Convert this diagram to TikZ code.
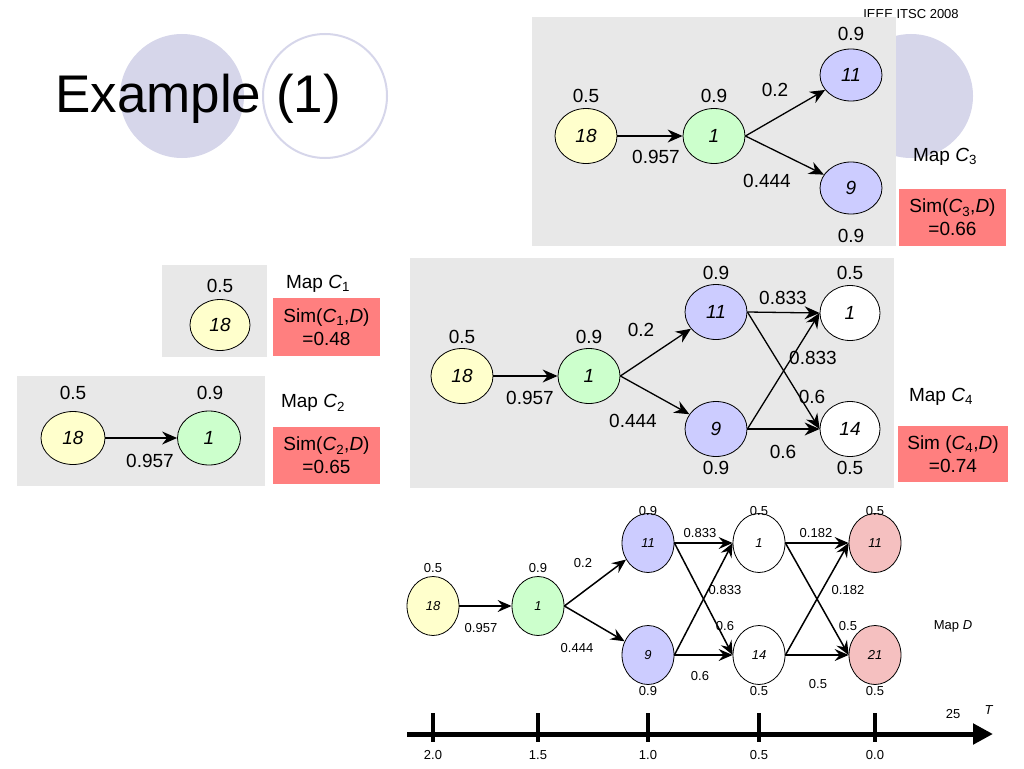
\documentclass[tikz,border=0pt]{standalone}
\usepackage{fontspec}
\setmainfont{Liberation Sans}
\usetikzlibrary{shapes.geometric,arrows.meta}
\definecolor{boxgray}{HTML}{E8E8E8}
\definecolor{simred}{HTML}{FF7F7F}
\definecolor{nyellow}{HTML}{FFFFCC}
\definecolor{ngreen}{HTML}{CCFFCC}
\definecolor{nblue}{HTML}{CCCCFF}
\definecolor{npink}{HTML}{F5C0C0}
\definecolor{deco}{HTML}{D6D6EA}
\begin{document}
\begin{tikzpicture}[x=1pt,y=-1pt,
  cn/.style={ellipse,draw,line width=0.8pt,inner sep=0pt,minimum width=62pt,minimum height=55pt,font=\fontsize{19}{19}\selectfont\itshape},
  dn/.style={ellipse,draw,line width=0.8pt,inner sep=0pt,minimum width=52pt,minimum height=59pt,font=\fontsize{13}{13}\selectfont\itshape},
  lab/.style={inner sep=0pt,font=\fontsize{19}{19}\selectfont},
  dlab/.style={inner sep=0pt,font=\fontsize{13}{13}\selectfont},
  edge/.style={-{Stealth[length=15pt,width=13pt,inset=5pt]},line width=1.3pt},
  dedge/.style={-{Stealth[length=14pt,width=12pt,inset=5pt]},line width=1.5pt},
  gbox/.style={fill=boxgray},
  simbox/.style={fill=simred,inner sep=0pt,align=center,font=\fontsize{19}{23}\selectfont},
  tick/.style={line width=4pt}]
\useasboundingbox (0,0) rectangle (1024,768);
% decorative circles
\fill[deco] (182,96) circle[radius=62pt];
\draw[deco,line width=2pt] (325,96) circle[radius=62pt];
\fill[deco] (911,96) circle[radius=62pt];
\node[font=\fontsize{53}{60}\selectfont,anchor=base west,inner sep=0pt] (title) at (55,112) {Example (1)};
\node[font=\fontsize{13}{13}\selectfont,inner sep=0pt] (conf) at (911,14) {IEEE ITSC 2008};
% gray boxes
\fill[gbox] (532,17) rectangle (896,246);
\fill[gbox] (162,265) rectangle (267,357);
\fill[gbox] (17,376) rectangle (265,486);
\fill[gbox] (410,258) rectangle (894,488);
% ---------- Map C3
\node[cn,fill=nyellow] (a18) at (586,136) {18};
\node[cn,fill=ngreen] (a1) at (714,136) {1};
\node[cn,fill=nblue,minimum height=52pt] (a11) at (851,75) {11};
\node[cn,fill=nblue,minimum height=52pt] (a9) at (851,188) {9};
\draw[edge] (a18) -- (a1);
\draw[edge] (a1.east) -- (a11);
\draw[edge] (a1.east) -- (a9);
\node[lab] (a18l) at (586,96) {0.5};
\node[lab] (a1l) at (714,96) {0.9};
\node[lab] (a11l) at (851,34) {0.9};
\node[lab] (a9l) at (851,236) {0.9};
\node[lab] (ae1) at (656,157) {0.957};
\node[lab] (ae2) at (775,90) {0.2};
\node[lab] (ae3) at (767,181) {0.444};
\node[lab] (amap) at (945,157) {Map \textit{C}\textsubscript{3}};
\node[simbox,minimum width=107pt,minimum height=57pt] (asim) at (952.5,217.5) {Sim(\textit{C}\textsubscript{3},\textit{D})\\=0.66};
% ---------- Map C1
\node[cn,fill=nyellow,minimum width=60pt,minimum height=51pt] (b18) at (220,325) {18};
\node[lab] (b18l) at (220,286) {0.5};
\node[lab] (bmap) at (318,284) {Map \textit{C}\textsubscript{1}};
\node[simbox,minimum width=107pt,minimum height=58pt] (bsim) at (326.5,327) {Sim(\textit{C}\textsubscript{1},\textit{D})\\=0.48};
% ---------- Map C2
\node[cn,fill=nyellow,minimum width=64pt,minimum height=53pt] (c18) at (73,438) {18};
\node[cn,fill=ngreen,minimum width=63pt,minimum height=54pt] (c1) at (209,438) {1};
\draw[edge] (c18) -- (c1);
\node[lab] (c18l) at (73,393) {0.5};
\node[lab] (c1l) at (210,393) {0.9};
\node[lab] (ce1) at (150,461) {0.957};
\node[lab] (cmap) at (313,403) {Map \textit{C}\textsubscript{2}};
\node[simbox,minimum width=107pt,minimum height=57pt] (csim) at (326.5,455.5) {Sim(\textit{C}\textsubscript{2},\textit{D})\\=0.65};
% ---------- Map C4
\node[cn,fill=nyellow] (e18) at (462,376) {18};
\node[cn,fill=ngreen] (e1) at (589,376) {1};
\node[cn,fill=nblue] (e11) at (716,312) {11};
\node[cn,fill=nblue] (e9) at (716,429) {9};
\node[cn,fill=white,minimum width=60pt] (e1w) at (850,313) {1};
\node[cn,fill=white,minimum width=60pt] (e14) at (850,429) {14};
\draw[edge] (e18) -- (e1);
\draw[edge] (e1.east) -- (e11);
\draw[edge] (e1.east) -- (e9);
\draw[edge] (e11.east) -- (e1w.west);
\draw[edge] (e11.east) -- (e14.west);
\draw[edge] (e9.east) -- (e1w.west);
\draw[edge] (e9.east) -- (e14.west);
\node[lab] (e18l) at (462,337) {0.5};
\node[lab] (e1l) at (589,337) {0.9};
\node[lab] (e11l) at (716,273) {0.9};
\node[lab] (e1wl) at (850,273) {0.5};
\node[lab] (e9l) at (716,468) {0.9};
\node[lab] (e14l) at (850,468) {0.5};
\node[lab] (ee1) at (530,398) {0.957};
\node[lab] (ee2) at (641,330) {0.2};
\node[lab] (ee3) at (633,421) {0.444};
\node[lab] (ee4) at (783,298) {0.833};
\node[lab] (ee5) at (813,358) {0.833};
\node[lab] (ee6) at (812,397) {0.6};
\node[lab] (ee7) at (783,452) {0.6};
\node[lab] (emap) at (941,397) {Map \textit{C}\textsubscript{4}};
\node[simbox,minimum width=110pt,minimum height=56pt] (esim) at (953,454) {Sim (\textit{C}\textsubscript{4},\textit{D})\\=0.74};
% ---------- Map D
\node[dn,fill=nyellow] (d18) at (433,606) {18};
\node[dn,fill=ngreen] (d1) at (538,606) {1};
\node[dn,fill=nblue] (d11) at (648,543) {11};
\node[dn,fill=nblue] (d9) at (648,655) {9};
\node[dn,fill=white] (d1w) at (759,543) {1};
\node[dn,fill=white] (d14) at (759,655) {14};
\node[dn,fill=npink] (d11r) at (875,543) {11};
\node[dn,fill=npink] (d21) at (875,655) {21};
\draw[dedge] (d18) -- (d1);
\draw[dedge] (d1.east) -- (d11);
\draw[dedge] (d1.east) -- (d9);
\draw[dedge] (d11.east) -- (d1w.west);
\draw[dedge] (d11.east) -- (d14.west);
\draw[dedge] (d9.east) -- (d1w.west);
\draw[dedge] (d9.east) -- (d14.west);
\draw[dedge] (d1w.east) -- (d11r.west);
\draw[dedge] (d1w.east) -- (d21.west);
\draw[dedge] (d14.east) -- (d11r.west);
\draw[dedge] (d14.east) -- (d21.west);
\node[dlab] (d18l) at (433,568) {0.5};
\node[dlab] (d1l) at (538,568) {0.9};
\node[dlab] (d11l) at (648,511) {0.9};
\node[dlab] (d1wl) at (759,511) {0.5};
\node[dlab] (d11rl) at (875,511) {0.5};
\node[dlab] (d9l) at (648,691) {0.9};
\node[dlab] (d14l) at (759,691) {0.5};
\node[dlab] (d21l) at (875,691) {0.5};
\node[dlab] (de1) at (481,628) {0.957};
\node[dlab] (de2) at (583,563) {0.2};
\node[dlab] (de3) at (577,648) {0.444};
\node[dlab] (de4) at (700,533) {0.833};
\node[dlab] (de5) at (725,590) {0.833};
\node[dlab] (de6) at (725,626) {0.6};
\node[dlab] (de7) at (700,676) {0.6};
\node[dlab] (de8) at (816,533) {0.182};
\node[dlab] (de9) at (848,590) {0.182};
\node[dlab] (de10) at (848,626) {0.5};
\node[dlab] (de11) at (818,684) {0.5};
\node[dlab] (dmap) at (953,626) {Map \textit{D}};
% ---------- time axis
\coordinate (ax0) at (407,734);
\coordinate (ax1) at (993,734);
\draw[line width=5pt,-{Triangle[length=20pt,width=20pt]}] (ax0) -- (ax1);
\foreach \x/\t in {433/2.0,538/1.5,648/1.0,759/0.5,875/0.0}{
  \draw[tick] (\x,713) -- (\x,742);
  \node[dlab] at (\x,755) {\t};
}
\node[dlab] (tf) at (953,714) {25};
\node[dlab] (tT) at (989,710) {\textit{T}};
\end{tikzpicture}
\end{document}
